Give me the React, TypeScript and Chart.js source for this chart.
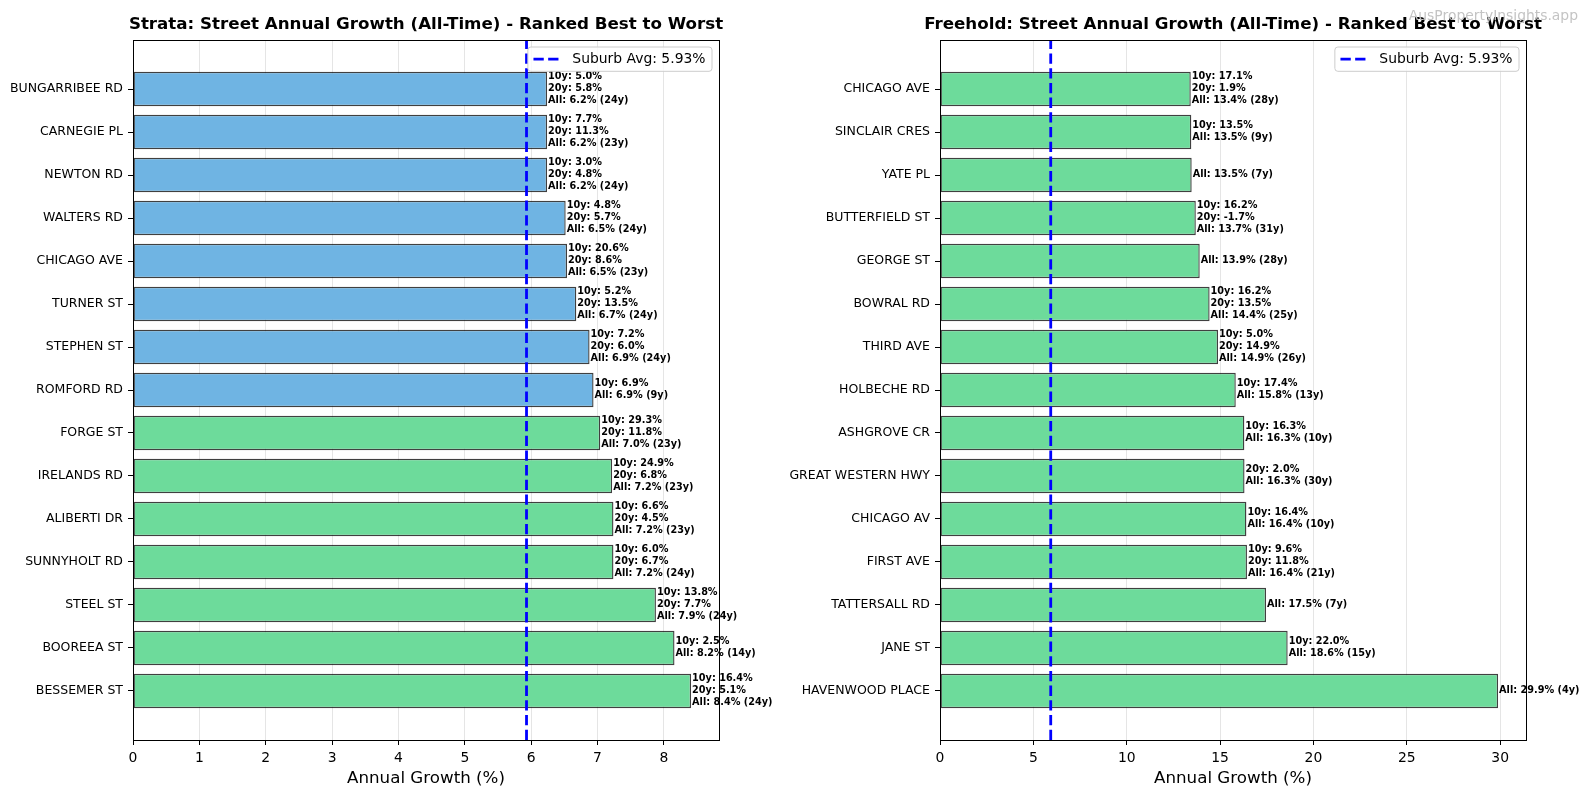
import React, { useEffect, useRef } from 'react';
import { Chart, registerables } from 'chart.js';

Chart.register(...registerables);

const FONT = '"DejaVu Sans", sans-serif';
const SUBURB_AVG = 5.93;
const GREEN_FROM = 7;

// strata streets (top to bottom)
const strataStreets = [
    'BUNGARRIBEE RD', 'CARNEGIE PL', 'NEWTON RD', 'WALTERS RD', 'CHICAGO AVE',
    'TURNER ST', 'STEPHEN ST', 'ROMFORD RD', 'FORGE ST', 'IRELANDS RD',
    'ALIBERTI DR', 'SUNNYHOLT RD', 'STEEL ST', 'BOOREEA ST', 'BESSEMER ST',
];
const strataGrowth = [6.24, 6.24, 6.24, 6.52, 6.54, 6.68, 6.88, 6.94, 7.04, 7.22, 7.24, 7.24, 7.88, 8.16, 8.41];
const strata10y = [5.0, 7.7, 3.0, 4.8, 20.6, 5.2, 7.2, 6.9, 29.3, 24.9, 6.6, 6.0, 13.8, 2.5, 16.4];
const strata20y = [5.8, 11.3, 4.8, 5.7, 8.6, 13.5, 6.0, null, 11.8, 6.8, 4.5, 6.7, 7.7, null, 5.1];
const strataYears = [24, 23, 24, 24, 23, 24, 24, 9, 23, 23, 23, 24, 24, 14, 24];

// freehold streets (top to bottom)
const freeholdStreets = [
    'CHICAGO AVE', 'SINCLAIR CRES', 'YATE PL', 'BUTTERFIELD ST', 'GEORGE ST',
    'BOWRAL RD', 'THIRD AVE', 'HOLBECHE RD', 'ASHGROVE CR', 'GREAT WESTERN HWY',
    'CHICAGO AV', 'FIRST AVE', 'TATTERSALL RD', 'JANE ST', 'HAVENWOOD PLACE',
];
const freeholdGrowth = [13.43, 13.46, 13.48, 13.7, 13.91, 14.44, 14.89, 15.84, 16.3, 16.31, 16.41, 16.44, 17.46, 18.62, 29.89];
const freehold10y = [17.1, 13.5, null, 16.2, null, 16.2, 5.0, 17.4, 16.3, null, 16.4, 9.6, null, 22.0, null];
const freehold20y = [1.9, null, null, -1.7, null, 13.5, 14.9, null, null, 2.0, null, 11.8, null, null, null];
const freeholdYears = [28, 9, 7, 31, 28, 25, 26, 13, 10, 30, 10, 21, 7, 15, 4];

const HEIGHT = 797;

type Props = {
    streets: string[];
    growth: number[];
    tenYear: (number | null)[];
    twentyYear: (number | null)[];
    years: number[];
    step: number;
    title: string;
    left: number;
    width: number;
    axisWidth: number;
    padRight: number;
    watermark?: boolean;
};

function GrowthChart(props: Props) {
    const canvasRef = useRef<HTMLCanvasElement>(null);
    const chartRef = useRef<Chart | null>(null);

    useEffect(() => {
        const { streets, growth, tenYear, twentyYear, years, step, title, axisWidth, padRight, watermark } = props;
        const ctx = canvasRef.current?.getContext('2d');
        if (!ctx) return;
        if (chartRef.current) chartRef.current.destroy();

        const n = streets.length;
        const yMargin = (n - 0.2) * 0.05;
        const xMax = Math.max(...growth) * 1.05;

        const overlay = {
            id: 'overlay',
            afterDatasetsDraw(chart: any) {
                const c = chart.ctx as CanvasRenderingContext2D;
                const a = chart.chartArea;
                const ax = chart.scales.x.getPixelForValue(SUBURB_AVG);

                // suburb average
                c.save();
                c.strokeStyle = '#0000ff';
                c.lineWidth = 2.8;
                c.setLineDash([10.3, 4.4]);
                c.beginPath();
                c.moveTo(ax, a.bottom);
                c.lineTo(ax, a.top);
                c.stroke();
                c.restore();

                // frame
                c.save();
                c.strokeStyle = '#000';
                c.lineWidth = 1;
                c.strokeRect(Math.round(a.left) + 0.5, Math.round(a.top) + 0.5, Math.round(a.right - a.left), Math.round(a.bottom - a.top));
                c.restore();

                // bar annotations
                c.save();
                c.font = `bold 9.7px ${FONT}`;
                c.fillStyle = '#000';
                c.textAlign = 'left';
                c.textBaseline = 'middle';
                chart.getDatasetMeta(0).data.forEach((bar: any, i: number) => {
                    const lines: string[] = [];
                    if (tenYear[i] != null) lines.push(`10y: ${tenYear[i]!.toFixed(1)}%`);
                    if (twentyYear[i] != null) lines.push(`20y: ${twentyYear[i]!.toFixed(1)}%`);
                    lines.push(`All: ${growth[i].toFixed(1)}% (${years[i]}y)`);
                    lines.forEach((t, k) => {
                        c.fillText(t, bar.x + 1, bar.y - 0.5 + (k - (lines.length - 1) / 2) * 11.7);
                    });
                });
                c.restore();

                // legend
                const label = `Suburb Avg: ${SUBURB_AVG.toFixed(2)}%`;
                c.save();
                c.font = `13.9px ${FONT}`;
                const tw = c.measureText(label).width;
                const bw = 5.6 + 27.8 + 11.1 + tw + 6.5;
                const bh = 24.3;
                const bx = a.right - 7 - bw;
                const by = a.top + 7;
                c.beginPath();
                c.roundRect(bx, by, bw, bh, 3);
                c.fillStyle = 'rgba(255,255,255,0.8)';
                c.fill();
                c.strokeStyle = '#cccccc';
                c.lineWidth = 1;
                c.stroke();
                c.strokeStyle = '#0000ff';
                c.lineWidth = 2.8;
                c.setLineDash([10.3, 4.4]);
                c.beginPath();
                c.moveTo(bx + 5.6, by + bh / 2);
                c.lineTo(bx + 5.6 + 27.8, by + bh / 2);
                c.stroke();
                c.setLineDash([]);
                c.fillStyle = '#000';
                c.textAlign = 'left';
                c.textBaseline = 'middle';
                c.fillText(label, bx + 5.6 + 27.8 + 11.1, by + bh / 2 + 0.5);
                c.restore();

                // titles
                c.save();
                c.fillStyle = '#000';
                c.textAlign = 'center';
                c.textBaseline = 'middle';
                c.font = `bold 16.7px ${FONT}`;
                c.fillText(title, (a.left + a.right) / 2, 25);
                c.font = `16.7px ${FONT}`;
                c.fillText('Annual Growth (%)', (a.left + a.right) / 2, 779);
                c.restore();

                if (watermark) {
                    c.save();
                    c.font = `13.9px ${FONT}`;
                    c.fillStyle = '#c4c4c4';
                    c.textAlign = 'right';
                    c.textBaseline = 'middle';
                    c.fillText('AusPropertyInsights.app', chart.width - 11, 16);
                    c.restore();
                }
            },
        };

        chartRef.current = new Chart(ctx, {
            type: 'bar',
            data: {
                datasets: [{
                    data: growth.map((v, i) => ({ x: v, y: i })),
                    backgroundColor: growth.map(v => (v >= GREEN_FROM ? 'rgb(109,219,155)' : 'rgb(111,180,227)')),
                    borderColor: 'rgba(0,0,0,0.75)',
                    borderWidth: 1.4,
                    borderSkipped: false,
                    barPercentage: 0.8,
                    categoryPercentage: 1,
                }],
            },
            options: {
                indexAxis: 'y',
                responsive: false,
                animation: false,
                layout: { padding: { top: 40, left: 0, right: padRight, bottom: 0 } },
                plugins: {
                    legend: { display: false },
                    title: { display: false },
                    tooltip: { enabled: false },
                },
                scales: {
                    x: {
                        type: 'linear',
                        min: 0,
                        max: xMax,
                        offset: false,
                        afterFit: (s: any) => { s.height = 57; },
                        afterBuildTicks: (s: any) => {
                            const t = [];
                            for (let v = 0; v <= xMax + 1e-9; v += step) t.push({ value: v });
                            s.ticks = t;
                        },
                        ticks: { stepSize: step, color: '#000', padding: 5, font: { family: FONT, size: 13.9 } },
                        grid: { color: '#e5e5e5', tickColor: '#000', tickLength: 5, lineWidth: 1, offset: false },
                        border: { display: false },
                    },
                    y: {
                        type: 'linear',
                        reverse: true,
                        offset: false,
                        min: -0.4 - yMargin,
                        max: n - 1 + 0.4 + yMargin,
                        afterFit: (s: any) => { s.width = axisWidth; },
                        afterBuildTicks: (s: any) => { s.ticks = streets.map((_, i) => ({ value: i })); },
                        ticks: {
                            color: '#000',
                            padding: 5,
                            font: { family: FONT, size: 12.5 },
                            callback: (v: any) => streets[v as number] ?? '',
                        },
                        grid: { drawOnChartArea: false, drawTicks: true, tickColor: '#000', tickLength: 5, offset: false },
                        border: { display: false },
                    },
                },
            },
            plugins: [overlay],
        } as any);

        return () => {
            if (chartRef.current) {
                chartRef.current.destroy();
                chartRef.current = null;
            }
        };
    }, []);

    return (
        <canvas
            ref={canvasRef}
            width={props.width}
            height={HEIGHT}
            style={{ position: 'absolute', left: props.left, top: 0, width: props.width, height: HEIGHT }}
        />
    );
}

export default function App() {
    return (
        <div style={{ position: 'absolute', left: 0, top: 0, width: 1589, height: HEIGHT, background: '#fff', overflow: 'hidden' }}>
            <GrowthChart
                streets={strataStreets}
                growth={strataGrowth}
                tenYear={strata10y}
                twentyYear={strata20y}
                years={strataYears}
                step={1}
                title="Strata: Street Annual Growth (All-Time) - Ranked Best to Worst"
                left={0}
                width={778}
                axisWidth={133}
                padRight={59}
            />
            <GrowthChart
                streets={freeholdStreets}
                growth={freeholdGrowth}
                tenYear={freehold10y}
                twentyYear={freehold20y}
                years={freeholdYears}
                step={5}
                title="Freehold: Street Annual Growth (All-Time) - Ranked Best to Worst"
                left={778}
                width={811}
                axisWidth={162}
                padRight={63}
                watermark
            />
        </div>
    );
}
